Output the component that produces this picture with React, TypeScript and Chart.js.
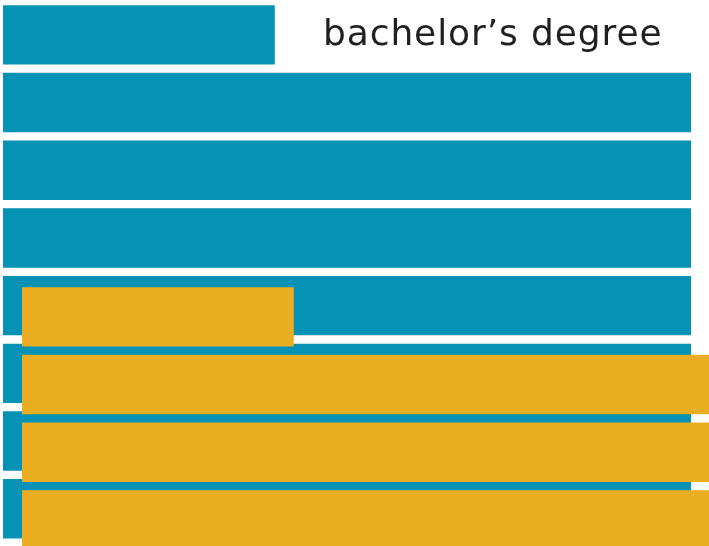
import React, { useEffect, useRef } from "react";
import { Chart, registerables } from "chart.js";

Chart.register(...registerables);

const blueRows = ["1", "2", "3", "4", "5", "6", "7", "8"];
const blueValues = [39.5, 100, 100, 100, 100, 100, 100, 100];
const yellowRows = ["1", "2", "3", "4"];
const yellowValues = [39.5, 100, 100, 100];
const labelText = "bachelor’s degree";

const BLUE = "#0592b4";
const YELLOW = "#ebae22";

function makeChart(
  canvas: HTMLCanvasElement,
  labels: string[],
  values: number[],
  color: string,
  padding: { left: number; right: number; top: number; bottom: number }
) {
  return new Chart(canvas, {
    type: "bar",
    data: {
      labels,
      datasets: [
        {
          data: values,
          backgroundColor: color,
          borderWidth: 0,
          categoryPercentage: 1,
          barPercentage: 0.878,
        },
      ],
    },
    options: {
      indexAxis: "y",
      animation: false,
      responsive: false,
      maintainAspectRatio: false,
      layout: { padding },
      plugins: { legend: { display: false }, tooltip: { enabled: false }, title: { display: false } },
      scales: {
        x: { display: false, min: 0, max: 100 },
        y: { display: false, offset: true },
      },
    },
  });
}

export default function App() {
  const blueRef = useRef<HTMLCanvasElement>(null);
  const yellowRef = useRef<HTMLCanvasElement>(null);

  useEffect(() => {
    const c1 = makeChart(blueRef.current!, blueRows, blueValues, BLUE, {
      left: 3,
      right: 18,
      top: 1,
      bottom: 546 - 1 - 8 * 67.7,
    });
    const c2 = makeChart(yellowRef.current!, yellowRows, yellowValues, YELLOW, {
      left: 3,
      right: 18,
      top: 1,
      bottom: 300 - 1 - 4 * 67.7,
    });
    return () => {
      c1.destroy();
      c2.destroy();
    };
  }, []);

  return (
    <div
      style={{
        position: "fixed",
        left: 0,
        top: 0,
        width: 709,
        height: 546,
        overflow: "hidden",
        background: "#ffffff",
      }}
    >
      <canvas
        ref={blueRef}
        width={709}
        height={546}
        style={{ position: "absolute", left: 0, top: 0, width: 709, height: 546 }}
      />
      <canvas
        ref={yellowRef}
        width={709}
        height={300}
        style={{ position: "absolute", left: 19, top: 282, width: 709, height: 300 }}
      />
      <div
        style={{
          position: "absolute",
          left: 323,
          top: 10,
          fontFamily: "'DejaVu Sans', sans-serif",
          fontSize: 36,
          letterSpacing: "0.9px",
          lineHeight: "46px",
          color: "#231f20",
          whiteSpace: "nowrap",
        }}
      >
        {labelText}
      </div>
    </div>
  );
}
